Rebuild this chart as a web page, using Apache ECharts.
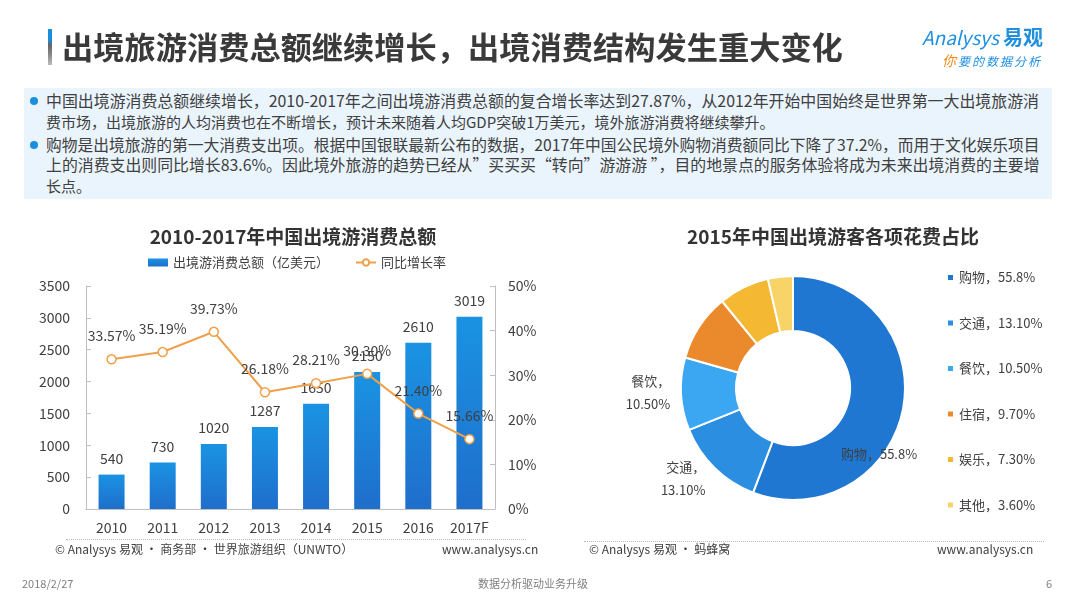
<!DOCTYPE html>
<html>
<head>
<meta charset="utf-8">
<script src="https://cdn.jsdelivr.net/npm/echarts@6/dist/echarts.min.js"></script>
<style>
  html, body { margin: 0; padding: 0; background: #fff; }
  body { width: 1080px; height: 608px; position: relative; overflow: hidden;
         font-family: "Noto Sans CJK SC", "Noto Sans", sans-serif; color: #404040; }
  #chart { position: absolute; left: 0; top: 0; width: 1080px; height: 608px; }
  .abs { position: absolute; white-space: nowrap; }
  #title { left: 62px; top: 26px; font-size: 31px; font-weight: bold; color: #3a3a3a; line-height: 40px; }
  #tbar { left: 48px; top: 29px; width: 4px; height: 36px;
          background: linear-gradient(#1a8fe0 0%, #1a8fe0 30%, #666 45%, #888 70%, #bbb 100%); }
  #box { left: 24px; top: 88px; width: 1028px; height: 111px; background: #eaf4fc; }
  .ln { font-size: 15px; line-height: 20px; color: #404040; left: 46px; }
  .dot { width: 8px; height: 8px; border-radius: 50%; background: #1a8fe0; left: 30px; }
  #logo1 { left: 922px; top: 24px; font-size: 19px; color: #1f8fe0; font-style: italic; line-height: 26px; }
  #logo1 b { font-style: normal; font-size: 20px; }
  #logo2 { left: 942px; top: 50px; font-size: 12px; color: #1f8fe0; font-style: italic; letter-spacing: 2px; }
  #logo2 span { color: #f08c1e; font-size: 14px; }
  .foot { font-size: 11px; color: #7f7f7f; top: 576px; line-height: 14px; }
  .src { font-size: 12px; color: #404040; top: 541px; line-height: 16px; }
  .sep { height: 0; border-top: 1px dotted #bbb; }
</style>
</head>
<body>
<div id="chart"></div>
<div class="abs" id="tbar"></div>
<div class="abs fit" id="title" data-w="781">出境旅游消费总额继续增长，出境消费结构发生重大变化</div>
<div class="abs" id="logo1">Analysys <b>易观</b></div>
<div class="abs" id="logo2"><span>你</span>要的数据分析</div>
<div class="abs" id="box"></div>
<div class="abs dot" style="top:97px"></div>
<div class="abs dot" style="top:141px"></div>
<div class="abs ln fit" data-w="994" style="top:91px">中国出境游消费总额继续增长，2010-2017年之间出境游消费总额的复合增长率达到27.87%，从2012年开始中国始终是世界第一大出境旅游消</div>
<div class="abs ln" style="top:112px">费市场，出境旅游的人均消费也在不断增长，预计未来随着人均GDP突破1万美元，境外旅游消费将继续攀升。</div>
<div class="abs ln fit" data-w="994" style="top:135px">购物是出境旅游的第一大消费支出项。根据中国银联最新公布的数据，2017年中国公民境外购物消费额同比下降了37.2%，而用于文化娱乐项目</div>
<div class="abs ln fit" data-w="994" style="top:155px">上的消费支出则同比增长83.6%。因此境外旅游的趋势已经从”买买买“转向”游游游 ”，目的地景点的服务体验将成为未来出境消费的主要增</div>
<div class="abs ln" style="top:176px">长点。</div>

<div class="abs sep" style="left:66px; top:539px; width:460px;"></div>
<div class="abs sep" style="left:584px; top:541px; width:460px;"></div>
<div class="abs src" style="left:55px;">© Analysys 易观 · 商务部 · 世界旅游组织（UNWTO）</div>
<div class="abs src" style="left:442px;">www.analysys.cn</div>
<div class="abs src" style="left:589px;">© Analysys 易观 · 蚂蜂窝</div>
<div class="abs src" style="left:937px;">www.analysys.cn</div>

<div class="abs foot" style="left:22px;">2018/2/27</div>
<div class="abs foot" style="left:478px;">数据分析驱动业务升级</div>
<div class="abs foot" style="left:1046px;">6</div>

<script>
// ---- data ----
const years = ['2010', '2011', '2012', '2013', '2014', '2015', '2016', '2017F'];
const spend = [540, 730, 1020, 1287, 1650, 2150, 2610, 3019];
const growth = [33.57, 35.19, 39.73, 26.18, 28.21, 30.30, 21.40, 15.66];
const growthLabels = ['33.57%', '35.19%', '39.73%', '26.18%', '28.21%', '30.30%', '21.40%', '15.66%'];
const barName = '出境游消费总额（亿美元）';
const lineName = '同比增长率';

const pieNames = ['购物', '交通', '餐饮', '住宿', '娱乐', '其他'];
const pieValues = [55.8, 13.1, 10.5, 9.7, 7.3, 3.6];
const pieLabels = ['55.8%', '13.10%', '10.50%', '9.70%', '7.30%', '3.60%'];
const pieColors = ['#1f77d2', '#2c8ee0', '#3ba6f2', '#ea8a2c', '#f4b832', '#f8d468'];

// fit long text lines to measured widths
document.querySelectorAll('.fit').forEach(el => {
  const target = +el.dataset.w;
  const w = el.getBoundingClientRect().width;
  if (w > 0) {
    const fs = parseFloat(getComputedStyle(el).fontSize);
    el.style.fontSize = (fs * target / w).toFixed(2) + 'px';
  }
});

const FONT = '"Noto Sans CJK SC", "Noto Sans", sans-serif';
const txt = '#404040';

const chart = echarts.init(document.getElementById('chart'));
const pieData = pieNames.map((n, i) => {
  const d = { name: n, value: pieValues[i], itemStyle: { color: pieColors[i] } };
  if (i === 0) {
    d.label = { show: true, position: 'inside', offset: [0, 50], formatter: n + '，' + pieLabels[i] };
  } else if (i === 1) {
    d.label = { show: true, position: 'outside', offset: [0, 6], formatter: n + '，\n' + pieLabels[i], align: 'center' };
  } else if (i === 2) {
    d.label = { show: true, position: 'outside', offset: [0, -2], formatter: n + '，\n' + pieLabels[i], align: 'center' };
  }
  return d;
});

chart.setOption({
  textStyle: { fontFamily: FONT },
  animation: false,
  title: [
    { text: '2010-2017年中国出境游消费总额', left: 288, top: 222, textAlign: 'center',
      textStyle: { fontSize: 19, fontWeight: 'bold', color: '#333', fontFamily: FONT } },
    { text: '2015年中国出境游客各项花费占比', left: 828, top: 222, textAlign: 'center',
      textStyle: { fontSize: 19, fontWeight: 'bold', color: '#333', fontFamily: FONT } }
  ],
  legend: [
    { data: [{ name: barName, icon: 'rect' }, { name: lineName }], left: 143, top: 251,
      itemWidth: 20, itemHeight: 8, itemGap: 26,
      textStyle: { fontSize: 13, color: txt, fontFamily: FONT } },
    { data: pieNames, orient: 'vertical', left: 941, top: 266, itemWidth: 7, itemHeight: 7,
      icon: 'rect', itemGap: 32.5,
      formatter: n => n + '，' + pieLabels[pieNames.indexOf(n)],
      textStyle: { fontSize: 13, color: txt, fontFamily: FONT } }
  ],
  grid: { left: 86, right: 585, top: 286, bottom: 99, containLabel: false },
  xAxis: {
    type: 'category', data: years,
    axisLine: { lineStyle: { color: '#bfbfbf' } },
    axisTick: { show: false },
    axisLabel: { fontSize: 14, color: txt, margin: 12 }
  },
  yAxis: [
    { type: 'value', min: 0, max: 3500, interval: 500,
      axisLine: { show: true, lineStyle: { color: '#bfbfbf' } },
      axisTick: { show: true, inside: true, length: 5, lineStyle: { color: '#bfbfbf' } },
      splitLine: { show: false },
      axisLabel: { fontSize: 14, color: txt, margin: 16, formatter: v => String(v) } },
    { type: 'value', min: 0, max: 50, interval: 10,
      axisLine: { show: true, lineStyle: { color: '#bfbfbf' } },
      axisTick: { show: true, inside: true, length: 5, lineStyle: { color: '#bfbfbf' } },
      splitLine: { show: false },
      axisLabel: { fontSize: 14, color: txt, margin: 13, formatter: '{value}%' } }
  ],
  series: [
    { name: barName, type: 'bar', data: spend, barWidth: 26,
      itemStyle: { color: new echarts.graphic.LinearGradient(0, 0, 0, 1, [
        { offset: 0, color: '#1a93e2' }, { offset: 1, color: '#1f6ecb' }]) },
      label: { show: true, position: 'top', distance: 9, fontSize: 14, color: txt } },
    { name: lineName, type: 'line', yAxisIndex: 1, data: growth,
      symbol: 'circle', symbolSize: 9,
      lineStyle: { color: '#f0a04a', width: 2 },
      itemStyle: { color: '#fff', borderColor: '#f0a04a', borderWidth: 1.5 },
      label: { show: true, position: 'top', distance: 11, fontSize: 14, color: txt,
        formatter: p => growthLabels[p.dataIndex] } },
    { name: '花费占比', type: 'pie', center: [793, 388], radius: [57, 112],
      startAngle: 90, clockwise: true,
      itemStyle: { borderColor: '#fff', borderWidth: 2 },
      label: { show: false, fontSize: 13, color: txt, lineHeight: 23 },
      labelLine: { show: false, length: 6, length2: 0 },
      data: pieData }
  ]
});
</script>
</body>
</html>
